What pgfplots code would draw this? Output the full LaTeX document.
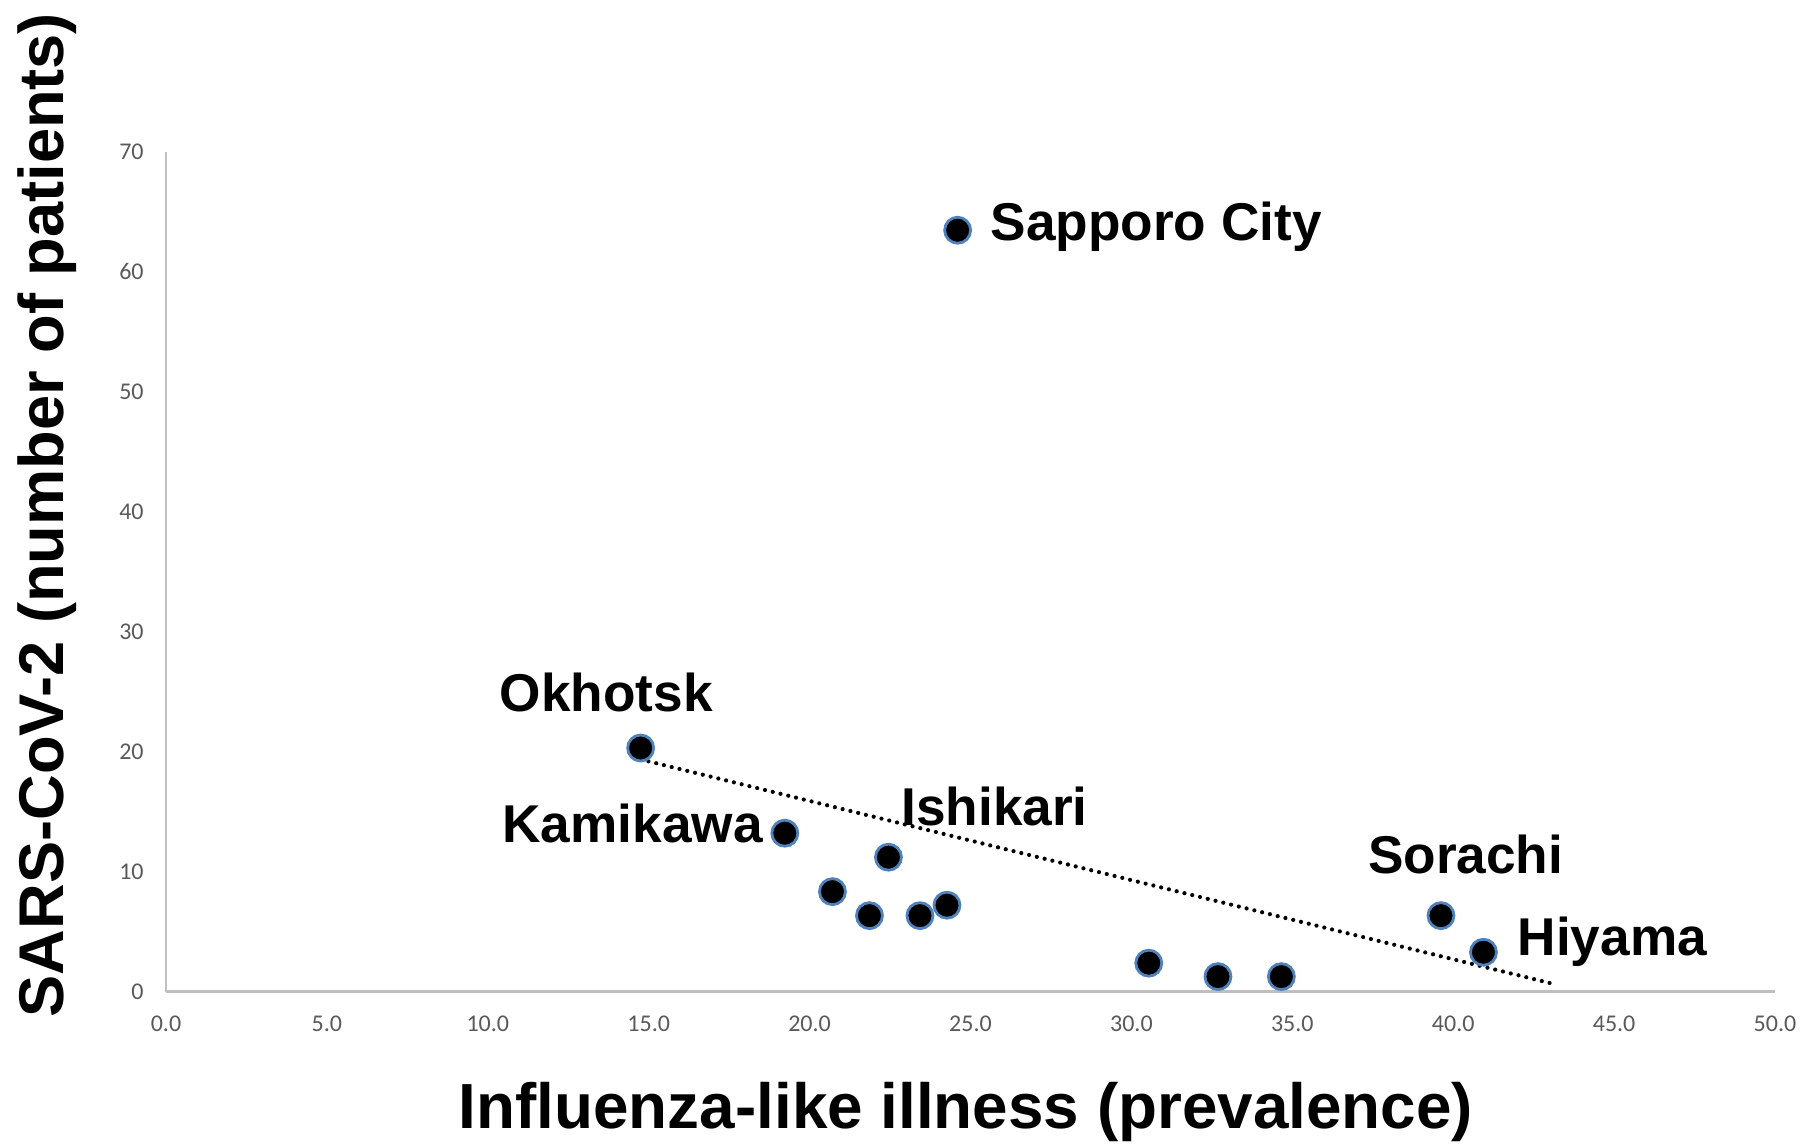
\documentclass[border=0pt]{standalone}
\usepackage{pgfplots}
\pgfplotsset{compat=1.18}
\usepackage{fontspec}
\setmainfont{Liberation Sans}
\newfontfamily\carlito{Carlito}
\definecolor{ringblue}{RGB}{79,129,189}
\definecolor{axisgray}{RGB}{191,191,191}
\definecolor{tickgray}{RGB}{89,89,89}
\begin{document}
\begin{tikzpicture}
\begin{axis}[
  at={(0,0)}, anchor=south west,
  scale only axis,
  width=402.25bp, height=210bp,
  xmin=0, xmax=50, ymin=0, ymax=70,
  axis lines=left,
  axis line style={-, draw=axisgray, line width=0.7bp},
  major tick length=0pt,
  xtick={0,5,...,50},
  ytick={0,10,...,70},
  clip=false,
  /pgf/number format/assume math mode=true,
  xticklabel={\pgfmathprintnumber[fixed,fixed zerofill,precision=1]{\tick}},
  xticklabel style={font=\carlito\fontsize{6bp}{7bp}\selectfont, text=tickgray, anchor=north, inner sep=0pt, yshift=-5.8bp},
  yticklabel style={font=\carlito\fontsize{6bp}{7bp}\selectfont, text=tickgray, anchor=east, inner sep=0pt, xshift=-5.4bp},
  xlabel={Influenza-like illness (prevalence)},
  ylabel={SARS-CoV-2 (number of patients)},
  xlabel style={at={(axis description cs:0.1815,-0.1634)}, anchor=base west, inner sep=0pt, font=\bfseries\fontsize{15.95bp}{19bp}\selectfont},
  ylabel style={at={(axis description cs:-0.0639,-0.0314)}, anchor=base west, inner sep=0pt, font=\bfseries\fontsize{15.8bp}{19bp}\selectfont},
]
% trend line
\addplot[black, line width=1.05bp, line cap=round, dash pattern=on 0bp off 2.0bp] coordinates {(14.75,19.35) (43.1,0.65)};
% data points
\addplot[only marks, mark=*, mark size=3.25bp, mark options={fill=black, draw=ringblue, line width=0.7bp}] table {
x y
24.60 63.45
14.75 20.30
19.23 13.20
22.45 11.20
20.71 8.33
21.86 6.33
23.43 6.33
24.27 7.20
30.54 2.37
32.69 1.25
34.66 1.25
39.62 6.33
40.94 3.28
};
\begin{scope}[every node/.style={anchor=base west, inner sep=0pt, font=\bfseries\fontsize{13.3bp}{16bp}\selectfont}]
\node at (axis cs:25.60,62.56) {Sapporo City};
\node at (axis cs:10.35,23.33) {Okhotsk};
\node at (axis cs:10.43,12.45) {Kamikawa};
\node at (axis cs:22.83,13.83) {Ishikari};
\node at (axis cs:37.33,9.87) {Sorachi};
\node at (axis cs:41.98,2.97) {Hiyama};
\end{scope}
\end{axis}
\pgfresetboundingbox
\useasboundingbox (-41.5bp,-38.35bp) rectangle (411bp,247.9bp);
\end{tikzpicture}
\end{document}
